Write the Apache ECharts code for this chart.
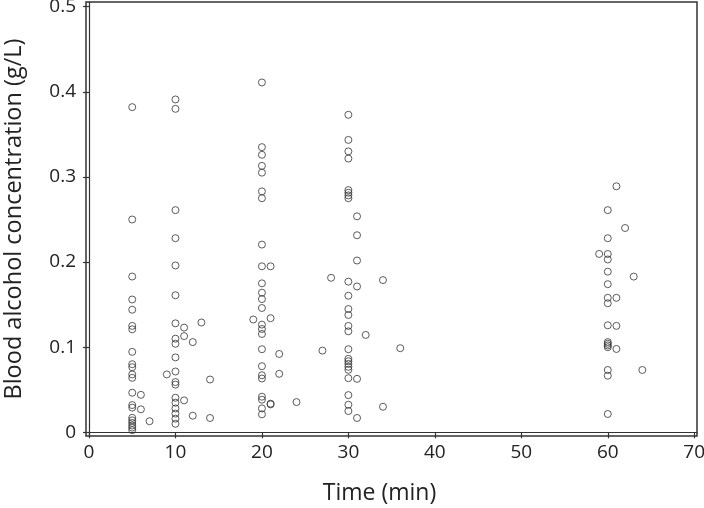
<!DOCTYPE html>
<html>
<head>
<meta charset="utf-8">
<script src="https://cdn.jsdelivr.net/npm/echarts@6/dist/echarts.min.js"></script>
<style>
html,body{margin:0;padding:0;background:#fff;}
#chart{width:704px;height:508px;}
</style>
</head>
<body>
<div id="chart"></div>
<script>
// Blood alcohol concentration (g/L) by sampling time (min)
const conc5 = [0.382, 0.250, 0.183, 0.156, 0.144, 0.125, 0.121, 0.0945, 0.080, 0.0765, 0.068, 0.064, 0.0465, 0.032, 0.029, 0.017, 0.014, 0.011, 0.008, 0.0055, 0.0025];
const conc10 = [0.391, 0.380, 0.261, 0.228, 0.196, 0.161, 0.128, 0.110, 0.104, 0.088, 0.0714, 0.059, 0.056, 0.0406, 0.0348, 0.028, 0.022, 0.016, 0.010];
const conc20 = [0.411, 0.335, 0.326, 0.313, 0.305, 0.283, 0.275, 0.2205, 0.195, 0.175, 0.164, 0.1565, 0.146, 0.1265, 0.1214, 0.1155, 0.0976, 0.0777, 0.067, 0.0632, 0.0418, 0.0383, 0.0281, 0.0211];
const conc30 = [0.373, 0.3435, 0.330, 0.3216, 0.2845, 0.2814, 0.2783, 0.275, 0.177, 0.1604, 0.1448, 0.1378, 0.125, 0.1186, 0.0976, 0.0863, 0.0835, 0.0804, 0.0769, 0.0734, 0.0636, 0.0437, 0.0324, 0.025];
const conc60 = [0.261, 0.228, 0.2095, 0.203, 0.1887, 0.174, 0.158, 0.1516, 0.1257, 0.106, 0.104, 0.102, 0.100, 0.0732, 0.0665, 0.0215];
const otherTimes = [6, 6, 7, 9, 11, 11, 11, 12, 12, 13, 14, 14, 19, 21, 21, 21, 21, 22, 22, 24, 27, 28, 31, 31, 31, 31, 31, 31, 32, 34, 34, 36, 59, 61, 61, 61, 61, 62, 63, 64];
const otherConc = [0.044, 0.027, 0.013, 0.068, 0.123, 0.113, 0.0375, 0.106, 0.0195, 0.129, 0.062, 0.0168, 0.1325, 0.195, 0.134, 0.0336, 0.0328, 0.092, 0.0687, 0.0355, 0.096, 0.1815, 0.2537, 0.2315, 0.2018, 0.1713, 0.0628, 0.0168, 0.1144, 0.1788, 0.030, 0.0988, 0.2095, 0.289, 0.158, 0.125, 0.0979, 0.240, 0.1829, 0.0732];
const xTicks = [0, 10, 20, 30, 40, 50, 60, 70];
const yTicks = [0, 0.1, 0.2, 0.3, 0.4, 0.5];

const points = [];
[[5, conc5], [10, conc10], [20, conc20], [30, conc30], [60, conc60]].forEach(([t, arr]) => {
  arr.forEach(v => points.push([t, v]));
});
otherTimes.forEach((t, i) => points.push([t, otherConc[i]]));

const font = '"Open Sans", Lato, sans-serif';
const chart = echarts.init(document.getElementById('chart'), null, {renderer: 'canvas'});
chart.setOption({
  animation: false,
  backgroundColor: '#fff',
  grid: {left: 86, right: 7, top: 2, bottom: 72, containLabel: false, outerBoundsMode: 'none',
    show: true, borderColor: '#333', borderWidth: 1.5, backgroundColor: 'transparent'},
  xAxis: {
    type: 'value', min: -0.347, max: 70.32,
    name: 'Time (min)', nameLocation: 'middle', nameGap: 46,
    nameTextStyle: {fontFamily: font, fontSize: 23, color: '#222', padding: [0, 24, 0, 0]},
    axisLine: {show: true, lineStyle: {color: '#333', width: 1.2}},
    axisTick: {show: true, length: 6, lineStyle: {color: '#333', width: 1.2}, customValues: xTicks},
    axisLabel: {customValues: xTicks, fontFamily: font, fontSize: 19, color: '#222', margin: 7},
    splitLine: {show: false}
  },
  yAxis: {
    type: 'value', min: -0.00435, max: 0.5055,
    name: 'Blood alcohol concentration (g/L)', nameLocation: 'middle', nameGap: 60,
    nameTextStyle: {fontFamily: font, fontSize: 23.5, color: '#222'},
    axisLine: {show: true, lineStyle: {color: '#333', width: 1.2}},
    axisTick: {show: true, length: 6, lineStyle: {color: '#333', width: 1.2}, customValues: yTicks},
    axisLabel: {customValues: yTicks, fontFamily: font, fontSize: 19, color: '#222', margin: 10,
      formatter: v => (v === 0 ? '0' : v.toFixed(1))},
    splitLine: {show: false}
  },
  series: [{
    type: 'scatter',
    data: points,
    symbol: 'circle',
    symbolSize: 7,
    itemStyle: {color: 'rgba(255,255,255,0)', borderColor: '#333', borderWidth: 1},
    emphasis: {disabled: true}
  }]
});
</script>
</body>
</html>
